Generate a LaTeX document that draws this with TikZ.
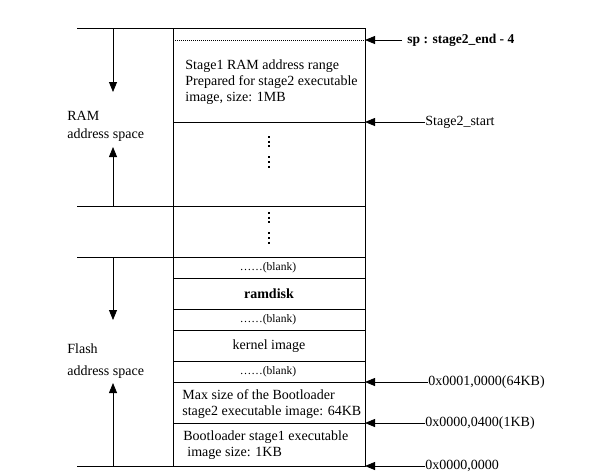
\documentclass[tikz,border=0pt]{standalone}
\usepackage{fontspec}
\setmainfont{Liberation Serif}
\usetikzlibrary{arrows.meta,positioning}

\begin{document}
\begin{tikzpicture}[x=1pt,y=-1pt,line width=0.8pt,
        every node/.style={inner sep=0pt,font=\fontsize{14}{16}\selectfont},
        blank/.style={font=\fontsize{11.5}{13}\selectfont},
        tip/.style={-{Triangle[length=10pt,width=8pt]}},
        vdots/.style={line width=2pt,dash pattern=on 2pt off 2.7pt on 2pt off 2.7pt on 2pt off 9pt}]
    \useasboundingbox (0,0) rectangle (609,475);

    %box
    \coordinate (boxtop) at (173,28);
    \coordinate (boxbot) at (365,466);
    \draw (boxtop) rectangle (boxbot);
    \draw[dash pattern=on 0.8pt off 1.2pt,line width=0.6pt] (173,40) -- (365,40);
    \foreach \y in {122,206,257,278,309,330,361,382,423}
        \draw (173,\y) -- (365,\y);
    \foreach \y in {28,206,257,466}
        \draw (77,\y) -- (173,\y);
    \draw[vdots] (269,136) -- (269,168);
    \draw[vdots] (269,212) -- (269,246);

    %cells
    \node[anchor=west,align=left] (stage1) at (185,82)
        {Stage1 RAM address range\\Prepared for stage2 executable\\image, size: 1MB};
    \node[blank] (blank1) at (268,268) {……(blank)};
    \node[font=\bfseries\fontsize{14}{16}\selectfont] (ramdisk) at (269,294) {ramdisk};
    \node[blank] (blank2) at (268,320) {……(blank)};
    \node (kernel) at (269,346) {kernel image};
    \node[blank] (blank3) at (268,372) {……(blank)};
    \node[anchor=west,align=left] (stage2) at (182,404)
        {Max size of the Bootloader\\stage2 executable image: 64KB};
    \node[anchor=west,align=left] (boot) at (183,445)
        {Bootloader stage1 executable\\\hspace{4pt}image size: 1KB};

    %left side
    \node[anchor=west,align=left,font=\fontsize{14}{18}\selectfont] (ramlbl) at (67,126)
        {RAM\\address space};
    \node[anchor=west,align=left,font=\fontsize{14}{22}\selectfont] (flashlbl) at (67,361)
        {Flash\\address space};
    \coordinate (ramhi) at (113,28);
    \coordinate (ramdn) at (113,92);
    \coordinate (ramlo) at (113,206);
    \coordinate (ramup) at (113,147);
    \coordinate (flhi) at (113,257);
    \coordinate (fldn) at (113,320);
    \coordinate (fllo) at (113,466);
    \coordinate (flup) at (113,383);
    \draw[tip] (ramhi) -- (ramdn);
    \draw[tip] (ramlo) -- (ramup);
    \draw[tip] (flhi) -- (fldn);
    \draw[tip] (fllo) -- (flup);

    %right side
    \node[anchor=west,inner xsep=5pt,font=\bfseries\fontsize{13.5}{16}\selectfont] (splbl) at (402,40)
        {sp : stage2\_end - 4};
    \node[anchor=west] (s2lbl) at (425,122) {Stage2\_start};
    \node[anchor=west] (kb64lbl) at (428,382) {0x0001,0000(64KB)};
    \node[anchor=west] (kb1lbl) at (425,423) {0x0000,0400(1KB)};
    \node[anchor=west] (zerolbl) at (425,466) {0x0000,0000};
    \coordinate (sp) at (365,40);
    \coordinate (s2) at (365,122);
    \coordinate (kb64) at (365,382);
    \coordinate (kb1) at (365,423);
    \coordinate (zero) at (365,466);
    \draw[tip] (splbl.west) -- (sp);
    \draw[tip] (s2lbl.west) -- (s2);
    \draw[tip] (kb64lbl.west) -- (kb64);
    \draw[tip] (kb1lbl.west) -- (kb1);
    \draw[tip] (zerolbl.west) -- (zero);
\end{tikzpicture}
\end{document}
